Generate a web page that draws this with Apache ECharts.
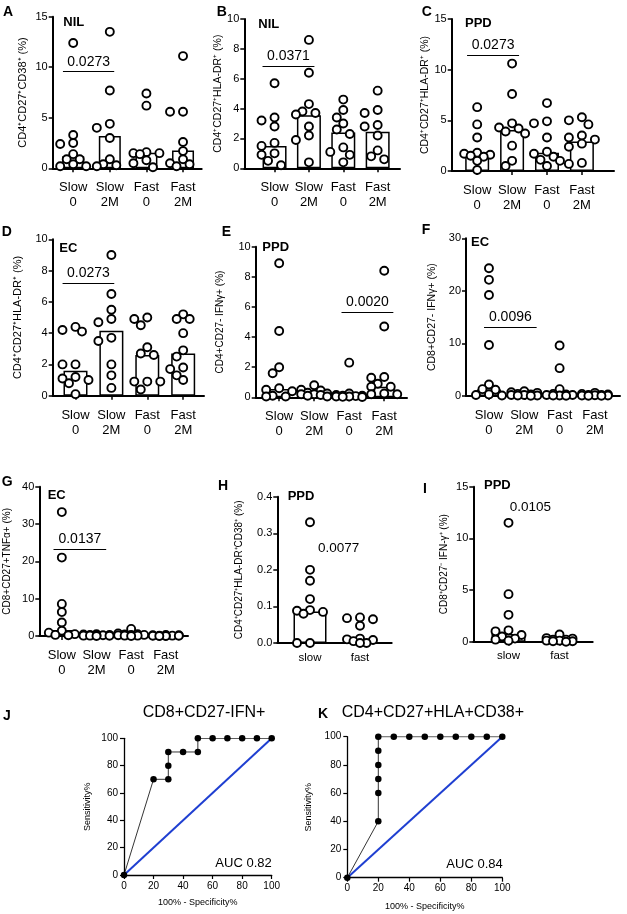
<!DOCTYPE html>
<html lang="en">
<head>
<meta charset="UTF-8">
<title>Flow panels and ROC</title>
<style>
  html, body { margin: 0; padding: 0; background: #fff; }
  #chart { width: 627px; height: 914px; }
</style>
</head>
<body>
<div id="chart"></div>
<script src="https://cdn.jsdelivr.net/npm/echarts@6/dist/echarts.min.js"></script>
<script>
// ---- data ----
var CATS4 = ['Slow\n0', 'Slow\n2M', 'Fast\n0', 'Fast\n2M'];
var CATS2 = ['slow', 'fast'];

var A_vals = [
  [12.4, 3.3, 2.5, 2.4, 1.4, 0.9, 0.9, 0.4, 0.2, 0.2],
  [13.5, 7.7, 4.4, 4.0, 3.0, 0.9, 0.4, 0.3, 0.2],
  [7.4, 6.2, 1.6, 1.5, 1.5, 1.4, 0.8, 0.5, 0.1],
  [11.1, 5.6, 5.6, 2.6, 1.7, 0.9, 0.5, 0.4, 0.2]
];
var A_med = [1.2, 3.2, 1.55, 1.75];

var B_vals = [
  [5.7, 3.4, 3.2, 2.8, 1.7, 1.5, 1.0, 0.9, 0.5, 0.2],
  [8.6, 6.4, 4.3, 3.8, 3.7, 3.6, 2.8, 2.2, 1.9, 0.4],
  [4.6, 3.9, 3.4, 3.0, 2.6, 2.3, 1.4, 1.1, 0.9, 0.4],
  [5.2, 3.9, 3.7, 2.9, 2.8, 2.2, 1.2, 0.8, 0.6]
];
var B_med = [1.5, 3.55, 2.4, 2.45];

var C_vals = [
  [6.3, 4.6, 3.3, 1.8, 1.7, 1.6, 1.5, 1.4, 1.0, 0.1],
  [10.6, 7.6, 4.7, 4.3, 4.2, 3.9, 3.7, 2.5, 1.0, 0.5],
  [6.7, 4.9, 4.7, 3.3, 1.9, 1.7, 1.4, 1.1, 1.0, 0.5],
  [5.3, 5.0, 4.6, 3.5, 3.3, 3.1, 2.7, 2.4, 0.8, 0.7]
];
var C_med = [1.55, 4.05, 1.8, 2.9];

var D_vals = [
  [4.4, 4.2, 4.1, 2.0, 2.0, 1.2, 1.1, 1.0, 0.8, 0.1],
  [9.0, 6.5, 5.5, 4.9, 4.7, 3.7, 3.5, 2.0, 1.3, 0.5],
  [5.0, 4.9, 4.5, 3.1, 2.7, 2.6, 0.9, 0.9, 0.9, 0.4],
  [5.2, 4.9, 4.9, 4.0, 2.9, 2.5, 1.8, 1.7, 1.3, 1.0]
];
var D_med = [1.6, 4.15, 2.6, 2.7];

var E_vals = [
  [8.9, 4.4, 2.0, 1.6, 0.6, 0.5, 0.4, 0.1, 0.05, 0.05],
  [0.8, 0.5, 0.45, 0.3, 0.25, 0.2, 0.2, 0.15, 0.1, 0.05],
  [2.3, 0.25, 0.15, 0.1, 0.1, 0.08, 0.05, 0.05, 0.03, 0.02],
  [8.4, 4.7, 1.35, 1.3, 0.9, 0.7, 0.7, 0.25, 0.2, 0.2]
];
var E_med = [0.55, 0.25, 0.1, 0.7];

var F_vals = [
  [24.3, 22.1, 19.2, 9.7, 2.2, 1.3, 1.2, 0.3, 0.2, 0.1],
  [0.9, 0.7, 0.6, 0.4, 0.3, 0.2, 0.2, 0.1, 0.1, 0.05],
  [9.6, 5.3, 1.3, 0.4, 0.3, 0.2, 0.2, 0.1, 0.1, 0.05],
  [0.6, 0.4, 0.3, 0.2, 0.2, 0.15, 0.1, 0.1, 0.05, 0.05]
];
var F_med = [1.25, 0.3, 0.3, 0.2];

var G_vals = [
  [33.2, 21.0, 8.6, 6.4, 3.6, 1.4, 0.9, 0.5, 0.3, 0.2],
  [0.5, 0.4, 0.3, 0.3, 0.2, 0.2, 0.1, 0.1, 0.05, 0.0],
  [1.9, 0.7, 0.5, 0.4, 0.3, 0.3, 0.2, 0.1, 0.1, 0.0],
  [0.3, 0.2, 0.2, 0.1, 0.1, 0.1, 0.05, 0.05, 0.0, 0.0]
];
var G_med = [1.6, 0.2, 0.3, 0.1];

var H_vals = [
  [0.33, 0.20, 0.17, 0.12, 0.09, 0.088, 0.085, 0.08, 0.0, 0.0],
  [0.07, 0.068, 0.065, 0.047, 0.012, 0.01, 0.008, 0.005, 0.0, 0.0]
];
var H_med = [0.086, 0.011];

var I_vals = [
  [11.5, 4.6, 2.6, 1.1, 1.0, 0.65, 0.5, 0.3, 0.2, 0.1],
  [0.7, 0.35, 0.3, 0.2, 0.2, 0.1, 0.1, 0.05, 0.05, 0.0]
];
var I_med = [0.75, 0.15];

// ROC curves (100% - specificity, sensitivity)
var J_fpr = [0, 20, 30, 30, 30, 40, 50, 50, 60, 70, 80, 90, 100];
var J_tpr = [0, 70, 70, 80, 90, 90, 90, 100, 100, 100, 100, 100, 100];
var K_fpr = [0, 20, 20, 20, 20, 20, 20, 30, 40, 50, 60, 70, 80, 90, 100];
var K_tpr = [0, 40, 60, 70, 80, 90, 100, 100, 100, 100, 100, 100, 100, 100, 100];

// ---- layout of the dot/bar panels ----
var FONT = 'Liberation Sans, Arial, Helvetica, sans-serif';
var panels = [
  {vals: A_vals, med: A_med, cats: CATS4, L: 52.7, R: 201.7, T: 16.7, B: 168.3, ymax: 15, yint: 5, xmin: -0.56, xmax: 3.51, barW: 22,
   name: 'CD4⁺CD27⁺CD38⁺ (%)', nameSize: 11, nameGap: 24, sig: {x1: -0.28, x2: 1.12, y: 9.56, text: '0.0273'}},
  {vals: B_vals, med: B_med, cats: CATS4, L: 244.3, R: 400, T: 19, B: 168.3, ymax: 10, yint: 2, xmin: -0.88, xmax: 3.65, barW: 24,
   name: 'CD4⁺CD27⁺HLA-DR⁺ (%)', nameSize: 10.5, nameGap: 17, sig: {x1: -0.35, x2: 1.16, y: 6.83, text: '0.0371'}},
  {vals: C_vals, med: C_med, cats: CATS4, L: 451.7, R: 614, T: 19, B: 171, ymax: 15, yint: 5, xmin: -0.73, xmax: 3.92, barW: 24,
   name: 'CD4⁺CD27⁺HLA-DR⁺ (%)', nameSize: 10.5, nameGap: 21, sig: {x1: -0.29, x2: 1.2, y: 11.45, text: '0.0273'}},
  {vals: D_vals, med: D_med, cats: CATS4, L: 52.7, R: 204, T: 239.3, B: 395.7, ymax: 10, yint: 2, xmin: -0.635, xmax: 3.58, barW: 24,
   name: 'CD4⁺CD27⁺HLA-DR⁺ (%)', nameSize: 11, nameGap: 29, sig: {x1: -0.36, x2: 1.08, y: 7.19, text: '0.0273'}},
  {vals: E_vals, med: E_med, cats: CATS4, L: 255.7, R: 407, T: 246.7, B: 397.3, ymax: 10, yint: 2, xmin: -0.67, xmax: 3.65, barW: 21,
   name: 'CD4+CD27- IFNγ+ (%)', nameSize: 10, nameGap: 30, sig: {x1: 1.78, x2: 3.26, y: 5.64, text: '0.0020'}},
  {vals: F_vals, med: F_med, cats: CATS4, L: 466, R: 620, T: 238.3, B: 396, ymax: 30, yint: 10, xmin: -0.65, xmax: 3.71, barW: 24,
   name: 'CD8+CD27- IFNγ+ (%)', nameSize: 10.5, nameGap: 28, sig: {x1: -0.14, x2: 1.35, y: 13.06, text: '0.0096'}},
  {vals: G_vals, med: G_med, cats: CATS4, L: 39.3, R: 188, T: 486.7, B: 636, ymax: 40, yint: 10, xmin: -0.65, xmax: 3.64, barW: 24,
   name: 'CD8+CD27+TNFα+ (%)', nameSize: 10, nameGap: 27, sig: {x1: -0.24, x2: 1.28, y: 23.2, text: '0.0137'}},
  {vals: H_vals, med: H_med, cats: CATS2, L: 277.3, R: 391.7, T: 496.7, B: 643, ymax: 0.4, yint: 0.1, xmin: -0.654, xmax: 1.634, barW: 33,
   name: 'CD4⁺CD27⁺HLA-DR⁺CD38⁺ (%)', nameSize: 10, nameGap: 33, dec: 1},
  {vals: I_vals, med: I_med, cats: CATS2, L: 473.3, R: 592.7, T: 486.7, B: 641.7, ymax: 15, yint: 5, xmin: -0.69, xmax: 1.65, barW: 34,
   name: 'CD8⁺CD27⁻ IFN-γ⁺ (%)', nameSize: 10, nameGap: 24.5}
];

// spread points of one group sideways so circles do not pile up (simple beeswarm)
function swarm(values, pxPerUnit, pxPerCat, center) {
  var step = 6.5, minDist = 8;
  var placed = [];
  var out = new Array(values.length);
  var order = values.map(function (v, i) { return i; })
    .sort(function (a, b) { return values[b] - values[a]; });
  order.forEach(function (i) {
    var py = values[i] * pxPerUnit;
    var best = 0, bestScore = -1;
    var cands = [0, -1, 1, -2, 2];
    for (var c = 0; c < cands.length; c++) {
      var px = cands[c] * step;
      var dmin = Infinity;
      placed.forEach(function (p) {
        var d = Math.sqrt((p[0] - px) * (p[0] - px) + (p[1] - py) * (p[1] - py));
        if (d < dmin) dmin = d;
      });
      if (dmin >= minDist) { best = px; break; }
      if (dmin > bestScore) { bestScore = dmin; best = px; }
    }
    placed.push([best, py]);
    out[i] = [center + best / pxPerCat, values[i]];
  });
  return out;
}

var grid = [], xAxis = [], yAxis = [], series = [];

panels.forEach(function (p, i) {
  var idx = p.cats.map(function (c, k) { return k; });
  var four = p.cats.length === 4;
  grid.push({left: p.L, top: p.T, width: p.R - p.L, height: p.B - p.T, outerBoundsMode: 'none'});
  xAxis.push({
    gridIndex: i, type: 'value', min: p.xmin, max: p.xmax,
    axisLine: {show: true, onZero: false, lineStyle: {color: '#000', width: 2}},
    axisTick: {show: true, customValues: idx, length: 4, lineStyle: {color: '#000', width: 1.5}},
    axisLabel: {customValues: idx, formatter: function (v) { return p.cats[Math.round(v)]; },
      fontSize: four ? 13 : 11.5, lineHeight: 15, margin: four ? 12 : 7, color: '#000'},
    splitLine: {show: false}
  });
  yAxis.push({
    gridIndex: i, type: 'value', min: 0, max: p.ymax, interval: p.yint,
    axisLine: {show: true, onZero: false, lineStyle: {color: '#000', width: 2}},
    axisTick: {show: true, length: 4, lineStyle: {color: '#000', width: 1.5}},
    axisLabel: {fontSize: 11, margin: 5, color: '#000',
      formatter: function (v) { return p.dec ? v.toFixed(p.dec) : v; }},
    splitLine: {show: false},
    name: p.name, nameLocation: 'middle', nameGap: p.nameGap,
    nameTextStyle: {fontSize: p.nameSize, color: '#000'}
  });

  var pxUnit = (p.B - p.T) / p.ymax;
  var pxCat = (p.R - p.L) / (p.xmax - p.xmin);
  var pts = [];
  p.vals.forEach(function (g, k) { pts = pts.concat(swarm(g, pxUnit, pxCat, k)); });

  series.push({
    type: 'bar', xAxisIndex: i, yAxisIndex: i, barWidth: p.barW, silent: true, z: 2,
    data: p.med.map(function (m, k) { return [k, m]; }),
    itemStyle: {color: '#fff', borderColor: '#000', borderWidth: 1.5}
  });
  var sc = {
    type: 'scatter', xAxisIndex: i, yAxisIndex: i, data: pts, symbol: 'circle', symbolSize: 8,
    silent: true, z: 3,
    itemStyle: {color: '#fff', borderColor: '#000', borderWidth: 1.9, opacity: 1}
  };
  if (p.sig) {
    sc.markLine = {
      silent: true, symbol: ['none', 'none'],
      lineStyle: {color: '#000', width: 1.2, type: 'solid'},
      label: {show: true, position: 'insideMiddleTop', formatter: p.sig.text, fontSize: 14, color: '#000', distance: 3},
      data: [[{coord: [p.sig.x1, p.sig.y]}, {coord: [p.sig.x2, p.sig.y]}]]
    };
  }
  series.push(sc);
});

// ---- ROC panels J and K ----
var rocs = [
  {fpr: J_fpr, tpr: J_tpr, L: 124, R: 271.7, T: 738.3, B: 875, nameGap: 32, xGap: 23.5},
  {fpr: K_fpr, tpr: K_tpr, L: 347.3, R: 502.3, T: 736.7, B: 877.7, nameGap: 34.5, xGap: 24.5}
];
rocs.forEach(function (r) {
  var i = grid.length;
  grid.push({left: r.L, top: r.T, width: r.R - r.L, height: r.B - r.T, outerBoundsMode: 'none'});
  xAxis.push({
    gridIndex: i, type: 'value', min: 0, max: 100, interval: 20,
    axisLine: {show: true, onZero: false, lineStyle: {color: '#000', width: 1.3}},
    axisTick: {show: true, length: 4, lineStyle: {color: '#000', width: 1.2}},
    axisLabel: {fontSize: 10, margin: 6, color: '#000'},
    splitLine: {show: false},
    name: '100% - Specificity%', nameLocation: 'middle', nameGap: r.xGap,
    nameTextStyle: {fontSize: 9, color: '#000'}
  });
  yAxis.push({
    gridIndex: i, type: 'value', min: 0, max: 100, interval: 20,
    axisLine: {show: true, onZero: false, lineStyle: {color: '#000', width: 1.3}},
    axisTick: {show: true, length: 4, lineStyle: {color: '#000', width: 1.2}},
    axisLabel: {fontSize: 10, margin: 6, color: '#000'},
    splitLine: {show: false},
    name: 'Sensitivity%', nameLocation: 'middle', nameGap: r.nameGap,
    nameTextStyle: {fontSize: 9, color: '#000'}
  });
  series.push({
    type: 'line', xAxisIndex: i, yAxisIndex: i, data: [[0, 0], [100, 100]], symbol: 'none', silent: true, z: 2,
    lineStyle: {color: '#1f3fd1', width: 2}
  });
  series.push({
    type: 'line', xAxisIndex: i, yAxisIndex: i, silent: true, z: 3,
    data: r.fpr.map(function (f, k) { return [f, r.tpr[k]]; }),
    symbol: 'circle', symbolSize: 6.5,
    itemStyle: {color: '#000'}, lineStyle: {color: '#000', width: 0.8}
  });
});

// ---- text labels ----
function txt(t, x, y, font, align, valign) {
  return {type: 'text', x: x, y: y, silent: true, z: 10,
    style: {text: t, font: font, fill: '#000', textAlign: align || 'left', textVerticalAlign: valign || 'top'}};
}
var LET = 'bold 14px ' + FONT, COND = 'bold 13px ' + FONT;
var graphic = [
  txt('A', 3, 5, LET), txt('B', 216.7, 5, LET), txt('C', 421.7, 5, LET),
  txt('D', 1.7, 225, LET), txt('E', 221.7, 225, LET), txt('F', 421.7, 223, LET),
  txt('G', 1.7, 475, LET), txt('H', 218, 479, LET), txt('I', 423, 482, LET),
  txt('J', 3, 709, LET), txt('K', 318, 707, LET),
  txt('NIL', 63.3, 22.8, COND, 'left', 'middle'), txt('NIL', 258.3, 24.2, COND, 'left', 'middle'),
  txt('PPD', 465, 23.8, COND, 'left', 'middle'), txt('EC', 59.3, 248.3, COND, 'left', 'middle'),
  txt('PPD', 262.3, 247.7, COND, 'left', 'middle'), txt('EC', 471, 242.5, COND, 'left', 'middle'),
  txt('EC', 47.7, 495, COND, 'left', 'middle'), txt('PPD', 287.7, 496, COND, 'left', 'middle'),
  txt('PPD', 484, 485, COND, 'left', 'middle'),
  txt('0.0077', 338.7, 548.3, '13.5px ' + FONT, 'center', 'middle'),
  txt('0.0105', 530.3, 507.3, '13.5px ' + FONT, 'center', 'middle'),
  txt('CD8+CD27-IFN+', 204, 712.3, '16px ' + FONT, 'center', 'middle'),
  txt('CD4+CD27+HLA+CD38+', 341.7, 712.3, '16px ' + FONT, 'left', 'middle'),
  txt('AUC 0.82', 271.7, 863.3, '13px ' + FONT, 'right', 'middle'),
  txt('AUC 0.84', 502.7, 864, '13px ' + FONT, 'right', 'middle')
];

var myChart = echarts.init(document.getElementById('chart'));
myChart.setOption({
  animation: false,
  backgroundColor: '#fff',
  textStyle: {fontFamily: FONT},
  grid: grid,
  xAxis: xAxis,
  yAxis: yAxis,
  series: series,
  graphic: graphic
});
</script>
</body>
</html>
